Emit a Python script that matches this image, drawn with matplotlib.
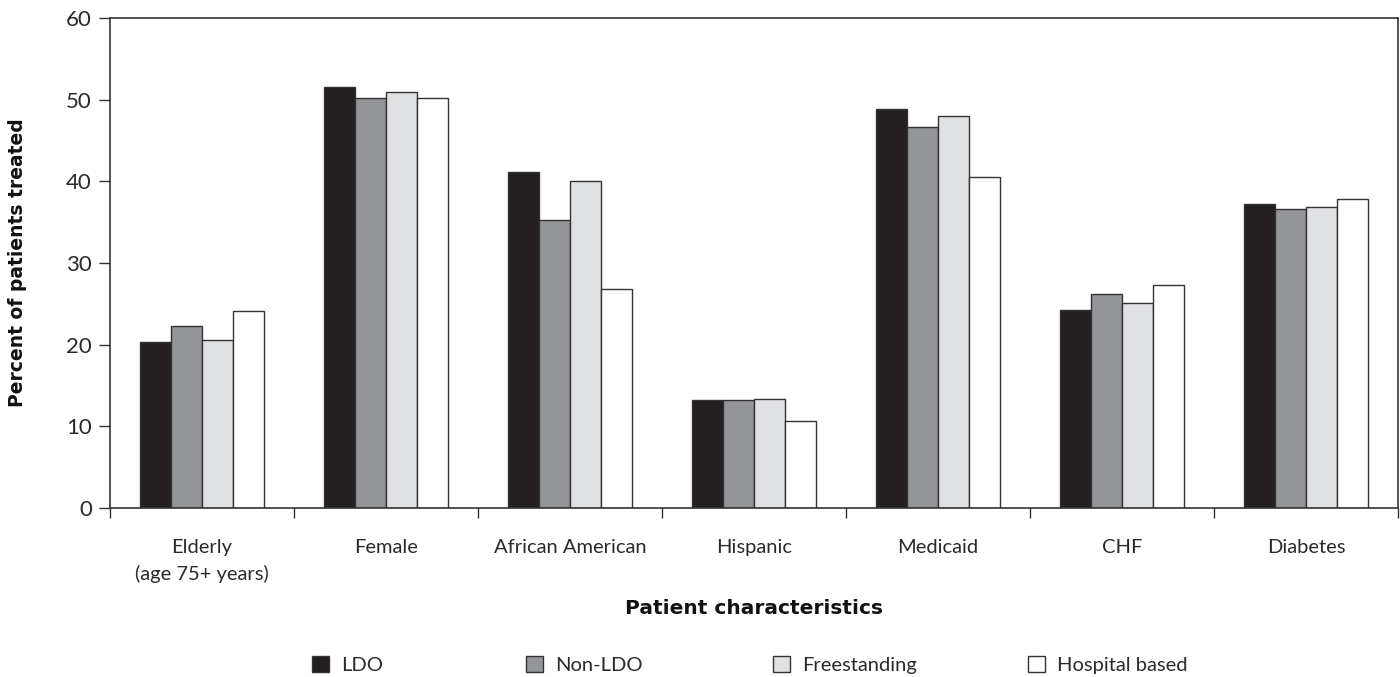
import matplotlib
matplotlib.use("Agg")
import matplotlib.pyplot as plt
import numpy as np
from matplotlib.patches import Patch

categories = ["Elderly\n(age 75+ years)", "Female", "African American", "Hispanic",
              "Medicaid", "CHF", "Diabetes"]
series_names = ["LDO", "Non-LDO", "Freestanding", "Hospital based"]
ldo = [20.3, 51.6, 41.1, 13.2, 48.8, 24.3, 37.2]
non_ldo = [22.3, 50.2, 35.3, 13.2, 46.7, 26.2, 36.6]
freestanding = [20.6, 51.0, 40.0, 13.35, 48.0, 25.1, 36.9]
hospital = [24.1, 50.2, 26.8, 10.7, 40.5, 27.3, 37.8]
series = [ldo, non_ldo, freestanding, hospital]
colors = ["#231f20", "#939598", "#e0e1e3", "#ffffff"]
yticks = [0, 10, 20, 30, 40, 50, 60]

light = ["Lato", "DejaVu Sans"]
bold = ["DejaVu Sans"]
plt.rcParams['font.family'] = light
txtcol = "#2a2a2a"

fig = plt.figure(figsize=(14, 6.77), dpi=100)
ax = fig.add_axes([0.0786, 0.2496, 0.92, 0.7238])

n = len(categories)
x = np.arange(n)
bw = 0.168
for i, (vals, c) in enumerate(zip(series, colors)):
    ax.bar(x + (i - 1.5) * bw, vals, width=bw, color=c, edgecolor="#333333",
           linewidth=1.0, label=series_names[i], zorder=2)

ax.set_xlim(-0.5, n - 0.5)
ax.set_ylim(0, 60)
ax.set_yticks(yticks)
ax.set_yticklabels([str(v) for v in yticks], fontsize=16, color=txtcol)
ax.tick_params(axis='y', direction='out', length=8, width=1, color="#333333", pad=5)

ax.set_xticks(np.arange(n + 1) - 0.5)
ax.set_xticklabels([])
ax.tick_params(axis='x', direction='out', length=7, width=1, color="#333333")
ax.set_xticks(x, minor=True)
ax.set_xticklabels(categories, minor=True, fontsize=14.5, color=txtcol,
                   linespacing=1.6)
ax.tick_params(axis='x', which='minor', length=0, pad=22)

for s in ax.spines.values():
    s.set_color("#333333")
    s.set_linewidth(1.2)

ax.set_ylabel("Percent of patients treated", fontsize=13.5, fontweight='bold', color="#111111",
              family=bold)
ax.yaxis.set_label_coords(-0.0645, 0.5)
ax.set_xlabel("Patient characteristics", fontsize=14.5, fontweight='bold', color="#111111",
              family=bold)
ax.xaxis.set_label_coords(0.5, -0.185)

sq_x = [312, 526, 773, 1028]
for name, c, xs in zip(series_names, colors, sq_x):
    h = Patch(facecolor=c, edgecolor="#333333", linewidth=1.0)
    fig.legend([h], [name], loc='center left', bbox_to_anchor=(xs / 1400, 1 - 665 / 677),
               frameon=False, prop={'size': 14.5}, labelcolor=txtcol,
               handlelength=0.85, handleheight=0.85, handletextpad=0.6,
               borderpad=0, borderaxespad=0)

fig.savefig("out.png", dpi=100, facecolor="white")
